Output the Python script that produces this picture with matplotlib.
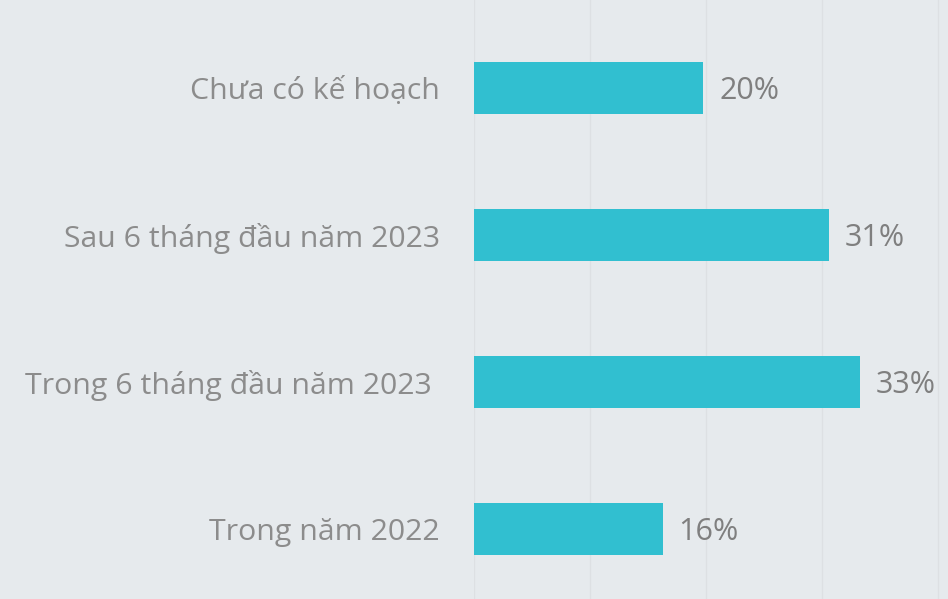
import matplotlib
matplotlib.use("Agg")
import matplotlib.pyplot as plt

categories = ["Trong năm 2022", "Trong 6 tháng đầu năm 2023 ", "Sau 6 tháng đầu năm 2023", "Chưa có kế hoạch"]
values = [16.3, 33.3, 30.6, 19.8]
value_labels = ["16%", "33%", "31%", "20%"]

bg = "#E6EAED"
bar_color = "#31BFD0"
text_color = "#8C8C8C"

plt.rcParams['font.family'] = ['Open Sans', 'DejaVu Sans']

fig = plt.figure(figsize=(9.48, 5.99), dpi=100, facecolor=bg)
ax = fig.add_axes([474/948, 0, 1 - 474/948, 1])
ax.set_facecolor(bg)

pos = list(range(len(categories)))
ax.barh(pos, values, height=0.354, color=bar_color, zorder=3)
for p, v, lab in zip(pos, values, value_labels):
    ax.text(v + 1.35, p - 0.02, lab, va="center", ha="left", fontsize=22, color="#7F7F7F")

ax.set_xlim(0, 40.9)
ax.set_ylim(-0.476, 3.599)
ax.set_xticks([0, 10, 20, 30, 40])
ax.set_xticklabels([])
ax.set_yticks(pos)
ax.set_yticklabels(categories, fontsize=21.8, color=text_color)
ax.tick_params(axis="y", length=0, pad=24.5)
ax.tick_params(axis="x", length=0)
ax.grid(axis="x", color="#DDE0E3", linewidth=1, zorder=0)
for s in ax.spines.values():
    s.set_visible(False)

fig.savefig("out.png", dpi=100, facecolor=bg)
